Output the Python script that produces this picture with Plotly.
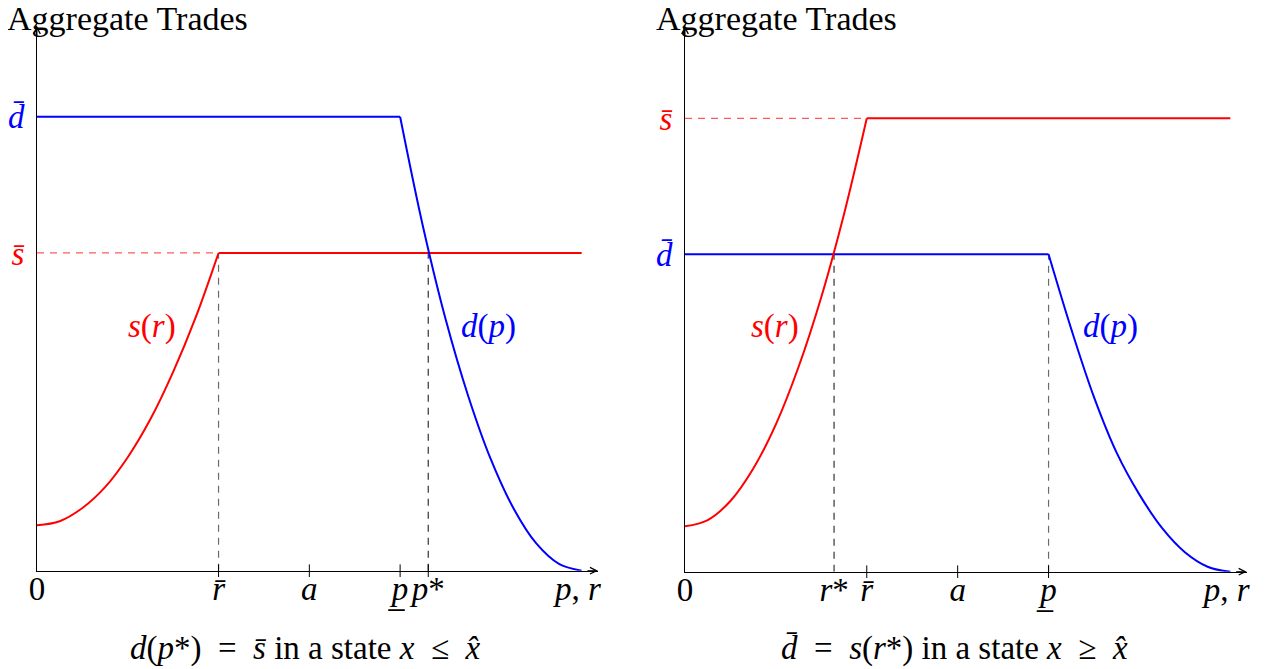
import plotly.graph_objects as go

# ---------------- data ----------------
# common abscissa grid for the rising supply curve s(r) (0 .. r_bar)
r_grid = [0.0, 0.25, 0.5, 0.75, 1.0, 1.25, 1.5, 1.75, 2.0]
# common abscissa grid for the falling demand curve d(p) (p_low .. p_max)
p_grid = [4.0, 4.25, 4.5, 4.75, 5.0, 5.25, 5.5, 5.75, 6.0]

# left panel: d(p*) = s_bar, x <= x_hat
s_left = [0.100, 0.109, 0.138, 0.184, 0.250, 0.334, 0.438, 0.559, 0.700]
d_left = [1.000, 0.760, 0.555, 0.385, 0.245, 0.137, 0.060, 0.015, 0.000]
s_bar_left = 0.70
d_bar_left = 1.00
p_star_left = 4.31

# right panel: d_bar = s(r*), x >= x_hat
s_right = [0.100, 0.114, 0.156, 0.227, 0.325, 0.452, 0.606, 0.789, 1.000]
d_right = [0.700, 0.535, 0.385, 0.262, 0.170, 0.096, 0.043, 0.011, 0.000]
s_bar_right = 1.00
d_bar_right = 0.70
r_star_right = 1.64

r_bar = 2.0
a_val = 3.0
p_low = 4.0
p_max = 6.0
pr_label_pos = 5.96

x_ticks_left = [0.0, r_bar, a_val, p_low, p_star_left, pr_label_pos]
x_labels_left = ["0", "<i>r̄</i>", "<i>a</i>", "<i>p̲</i>", "<i>p</i>*", "<i>p</i>, <i>r</i>"]
x_ticks_right = [0.0, r_star_right, r_bar, a_val, p_low, pr_label_pos]
x_labels_right = ["0", "<i>r</i>*", "<i>r̄</i>", "<i>a</i>", "<i>p̲</i>", "<i>p</i>, <i>r</i>"]
marks_left = [r_bar, a_val, p_low, p_star_left]
marks_right = [r_bar, a_val, p_low]

caption_left = ("<i>d</i>(<i>p</i>*)\u2002=\u2002<i>s̄</i> in a state "
                "<i>x</i>\u2002≤\u2002<i>x̂</i>")
caption_right = ("<i>d̄</i>\u2002=\u2002<i>s</i>(<i>r</i>*) in a state "
                 "<i>x</i>\u2002≥\u2002<i>x̂</i>")
title_text = "Aggregate Trades"

BLUE = "#0000ff"
RED = "#ff0000"
FONT = "Liberation Serif"
FS = 33

# page body has an 8px margin: figure is sized/positioned to compensate
OFF = 8
W, H = 1277 - OFF, 669 - OFF


def fx(px):
    return (px - OFF) / W


def fy(py):
    return (669 - py) / H


fig = go.Figure()


def dashed(x, y, color, xa, ya):
    fig.add_trace(go.Scatter(x=x, y=y, mode="lines", xaxis=xa, yaxis=ya,
                             line=dict(color=color, width=1.2, dash="7px,6px"),
                             hoverinfo="skip", showlegend=False))


def solid(x, y, color, xa, ya, shape="linear"):
    fig.add_trace(go.Scatter(x=x, y=y, mode="lines", xaxis=xa, yaxis=ya,
                             line=dict(color=color, width=2, shape=shape, smoothing=1),
                             hoverinfo="skip", showlegend=False))


def marks(xs, xa, ya):
    fig.add_trace(go.Scatter(x=xs, y=[0] * len(xs), mode="markers", xaxis=xa, yaxis=ya,
                             hoverinfo="skip", showlegend=False, cliponaxis=False,
                             marker=dict(symbol="line-ns-open", size=9, color="black",
                                         line=dict(color="black", width=1))))


# ---------- left panel ----------
dashed([0, r_bar], [s_bar_left, s_bar_left], "rgba(255,0,0,0.65)", "x", "y")
dashed([r_bar, r_bar], [0, s_bar_left], "#6b6b6b", "x", "y")
dashed([p_star_left, p_star_left], [0, s_bar_left], "#333333", "x", "y")
solid(r_grid, s_left, RED, "x", "y", "spline")
solid([r_bar, p_max], [s_bar_left, s_bar_left], RED, "x", "y")
solid([0, p_low], [d_bar_left, d_bar_left], BLUE, "x", "y")
solid(p_grid, d_left, BLUE, "x", "y", "spline")
marks(marks_left, "x", "y")

# ---------- right panel ----------
dashed([0, r_bar], [s_bar_right, s_bar_right], "rgba(255,0,0,0.65)", "x2", "y2")
dashed([r_star_right, r_star_right], [0, d_bar_right], "#333333", "x2", "y2")
dashed([p_low, p_low], [0, d_bar_right], "#6b6b6b", "x2", "y2")
solid([0, p_low], [d_bar_right, d_bar_right], BLUE, "x2", "y2")
solid(p_grid, d_right, BLUE, "x2", "y2", "spline")
solid(r_grid, s_right, RED, "x2", "y2", "spline")
solid([r_bar, p_max], [s_bar_right, s_bar_right], RED, "x2", "y2")
marks(marks_right, "x2", "y2")

tickfont = dict(family=FONT, size=FS, color="black")
common_x = dict(showgrid=False, zeroline=False, showline=True, linecolor="black",
                linewidth=1, ticks="", tickfont=tickfont, tickmode="array", tickangle=0,
                range=[0, 6.18], fixedrange=True, automargin=False, ticklabelstandoff=-11)
common_y = dict(showgrid=False, zeroline=False, showline=True, linecolor="black",
                linewidth=1, ticks="", tickfont=tickfont, tickmode="array", tickangle=0,
                fixedrange=True, automargin=False, ticklabelstandoff=5)

fig.update_layout(
    width=W, height=H, autosize=False,
    margin=dict(l=0, r=0, t=0, b=0, autoexpand=False),
    paper_bgcolor="white", plot_bgcolor="white",
    font=dict(family=FONT, size=FS, color="black"),
    xaxis=dict(common_x, domain=[fx(37), fx(598)], anchor="y",
               tickvals=x_ticks_left, ticktext=x_labels_left),
    yaxis=dict(common_y, domain=[fy(570.7), fy(26)], anchor="x",
               range=[0, 1.2], tickvals=[s_bar_left, d_bar_left],
               ticktext=[f"<span style='color:{RED}'><i>s̄</i></span>",
                         f"<span style='color:{BLUE}'><i>d̄</i></span>"]),
    xaxis2=dict(common_x, domain=[fx(685), fx(1246.7)], anchor="y2",
                tickvals=x_ticks_right, ticktext=x_labels_right),
    yaxis2=dict(common_y, domain=[fy(571.7), fy(26)], anchor="x2",
                range=[0, 1.2036], tickvals=[d_bar_right, s_bar_right],
                ticktext=[f"<span style='color:{BLUE}'><i>d̄</i></span>",
                          f"<span style='color:{RED}'><i>s̄</i></span>"]),
)

ann = []
# axis arrows
for xr, yr, xmax, ymax in [("x", "y", 6.18, 1.2), ("x2", "y2", 6.18, 1.2036)]:
    ann.append(dict(x=xmax, y=0, xref=xr, yref=yr, ax=-12, ay=0, showarrow=True,
                    arrowhead=5, arrowsize=1.3, arrowwidth=1, arrowcolor="black", text=""))
    ann.append(dict(x=0, y=ymax, xref=xr, yref=yr, ax=0, ay=12, showarrow=True,
                    arrowhead=5, arrowsize=1.3, arrowwidth=1, arrowcolor="black", text=""))
# titles
for xc in [127, 776]:
    ann.append(dict(text=title_text, x=fx(xc), y=fy(18), xref="paper", yref="paper",
                    showarrow=False, xanchor="center", yanchor="middle", borderpad=0,
                    font=dict(family=FONT, size=34, color="black")))
# curve labels
ann.append(dict(text="<i>s</i>(<i>r</i>)", x=1.27, y=0.537, xref="x", yref="y", showarrow=False,
                font=dict(family=FONT, size=FS, color=RED)))
ann.append(dict(text="<i>d</i>(<i>p</i>)", x=4.97, y=0.537, xref="x", yref="y", showarrow=False,
                font=dict(family=FONT, size=FS, color=BLUE)))
ann.append(dict(text="<i>s</i>(<i>r</i>)", x=0.99, y=0.54, xref="x2", yref="y2", showarrow=False,
                font=dict(family=FONT, size=FS, color=RED)))
ann.append(dict(text="<i>d</i>(<i>p</i>)", x=4.68, y=0.54, xref="x2", yref="y2", showarrow=False,
                font=dict(family=FONT, size=FS, color=BLUE)))
# captions
ann.append(dict(text=caption_left, x=fx(305), y=fy(648), xref="paper", yref="paper",
                showarrow=False, xanchor="center", yanchor="middle",
                font=dict(family=FONT, size=FS, color="black")))
ann.append(dict(text=caption_right, x=fx(954), y=fy(648), xref="paper", yref="paper",
                showarrow=False, xanchor="center", yanchor="middle",
                font=dict(family=FONT, size=FS, color="black")))
fig.update_layout(annotations=ann)

fig.write_html("out.html")
